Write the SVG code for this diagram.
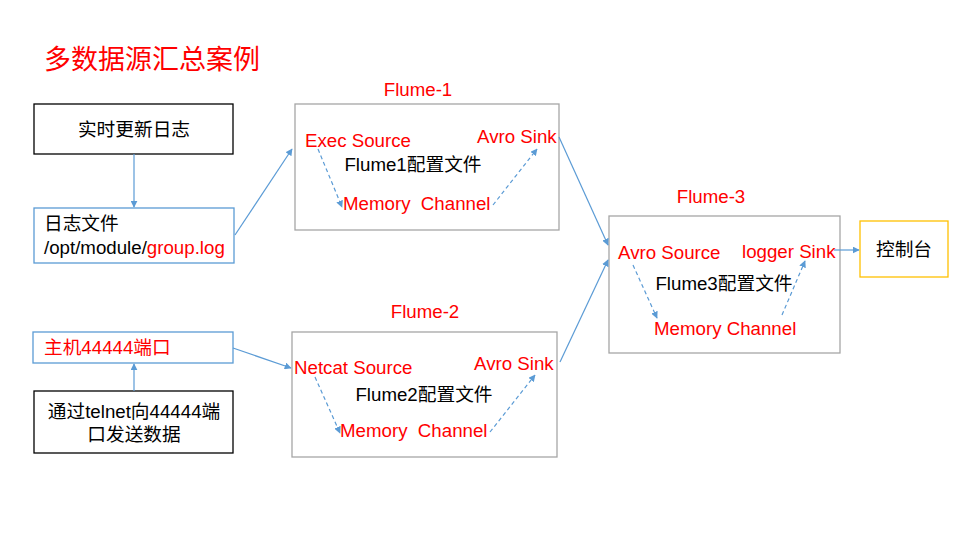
<svg xmlns="http://www.w3.org/2000/svg" width="960" height="540" viewBox="0 0 960 540">
<defs>
<marker id="ah" viewBox="0 0 10 10" refX="9" refY="5" markerWidth="7" markerHeight="7" orient="auto" markerUnits="userSpaceOnUse">
<path d="M0,0 L10,5 L0,10 z" fill="#5b9bd5"/>
</marker>
<style>
text{font-family:"Liberation Sans","Noto Sans CJK SC",sans-serif;font-size:18.7px;fill:#000}
.r{fill:#ff0000}
.c{text-anchor:middle}
.bk{fill:#fff;stroke:#000;stroke-width:1.3}
.bl{fill:#fff;stroke:#5b9bd5;stroke-width:1.3}
.gr{fill:#fff;stroke:#a6a6a6;stroke-width:1.3}
.or{fill:#fff;stroke:#ffc000;stroke-width:1.3}
.ln{stroke:#5b9bd5;stroke-width:1.2;fill:none;marker-end:url(#ah)}
.ds{stroke:#5b9bd5;stroke-width:1.2;fill:none;stroke-dasharray:4,3;marker-end:url(#ah)}
</style>
</defs>
<rect width="960" height="540" fill="#fff"/>
<text x="44" y="69" class="r" style="font-size:27px">多数据源汇总案例</text>

<g id="realtime-log">
<rect x="34" y="104" width="199" height="50" class="bk"/>
<text x="134" y="136" class="c">实时更新日志</text>
</g>
<g id="log-file">
<rect x="34" y="208" width="200" height="55" class="bl"/>
<text x="44" y="230">日志文件</text>
<text x="44" y="254">/opt/module/<tspan class="r">group.log</tspan></text>
</g>
<g id="host-port">
<rect x="33" y="332" width="200" height="31" class="bl"/>
<text x="44" y="354" class="r">主机44444端口</text>
</g>
<g id="telnet">
<rect x="34" y="391" width="199" height="62" class="bk"/>
<text x="134" y="418" class="c">通过telnet向44444端</text>
<text x="134" y="441" class="c">口发送数据</text>
</g>

<g id="flume1">
<text x="418" y="96" class="r c">Flume-1</text>
<rect x="295" y="104" width="264" height="126" class="gr"/>
<text x="305" y="147" class="r">Exec Source</text>
<text x="477" y="143" class="r">Avro Sink</text>
<text x="413" y="171" class="c">Flume1配置文件</text>
<text x="343" y="210" class="r">Memory&#160; Channel</text>
</g>
<g id="flume2">
<text x="425" y="318" class="r c">Flume-2</text>
<rect x="292" y="332" width="265" height="125" class="gr"/>
<text x="294" y="374" class="r">Netcat Source</text>
<text x="474" y="370" class="r">Avro Sink</text>
<text x="424" y="401" class="c">Flume2配置文件</text>
<text x="340" y="437" class="r">Memory&#160; Channel</text>
</g>
<g id="flume3">
<text x="711" y="203" class="r c">Flume-3</text>
<rect x="609" y="216" width="231" height="137" class="gr"/>
<text x="618" y="259" class="r">Avro Source</text>
<text x="742" y="258" class="r">logger Sink</text>
<text x="724" y="290" class="c">Flume3配置文件</text>
<text x="654" y="335" class="r">Memory Channel</text>
</g>
<g id="console">
<rect x="860" y="221" width="88" height="56" class="or"/>
<text x="904" y="256" class="c">控制台</text>
</g>

<g id="connectors">
<line x1="134" y1="154" x2="134" y2="207" class="ln"/>
<line x1="235" y1="235" x2="292" y2="149" class="ln"/>
<line x1="134" y1="391" x2="134" y2="364" class="ln"/>
<line x1="233" y1="348" x2="291" y2="368" class="ln"/>
<line x1="559" y1="137" x2="608" y2="245" class="ln"/>
<line x1="560" y1="362" x2="608" y2="260" class="ln"/>
<line x1="834" y1="250" x2="859" y2="250" class="ln"/>
<line x1="318" y1="149" x2="342" y2="207" class="ds"/>
<line x1="493" y1="205" x2="537" y2="149" class="ds"/>
<line x1="315" y1="377" x2="340" y2="433" class="ds"/>
<line x1="490" y1="432" x2="535" y2="375" class="ds"/>
<line x1="633" y1="265" x2="657" y2="318" class="ds"/>
<line x1="782" y1="315" x2="805" y2="261" class="ds"/>
</g>
</svg>
